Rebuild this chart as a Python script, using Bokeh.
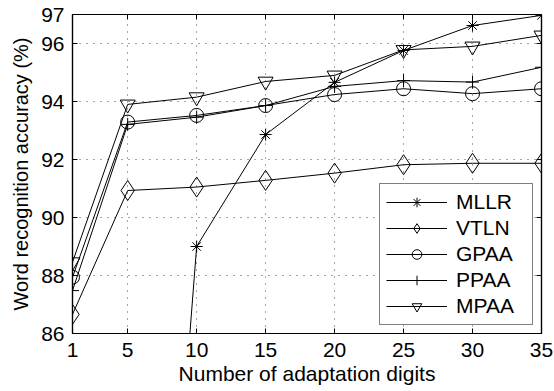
from bokeh.plotting import figure
from bokeh.models import Range1d, FixedTicker, LinearAxis, Legend, LegendItem, CustomJSTickFormatter
from bokeh.embed import file_html
from bokeh.resources import INLINE

x_digits = [1, 5, 10, 15, 20, 25, 30, 35]
x_ticks = [1, 5, 10, 15, 20, 25, 30, 35]
y_ticks = [86, 88, 90, 92, 94, 96, 97]

mllr = [40.0, 58.4, 89.0, 92.86, 94.66, 95.76, 96.62, 96.97]
vtln = [86.66, 90.93, 91.05, 91.28, 91.53, 91.82, 91.87, 91.87]
gpaa = [87.94, 93.29, 93.52, 93.86, 94.24, 94.44, 94.27, 94.44]
ppaa = [87.48, 93.21, 93.46, 93.86, 94.52, 94.72, 94.67, 95.18]
mpaa = [88.46, 93.90, 94.15, 94.69, 94.90, 95.78, 95.90, 96.28]

series = [
    ("MLLR", mllr, "asterisk", 12),
    ("VTLN", vtln, "diamond", 20),
    ("GPAA", gpaa, "circle", 14),
    ("PPAA", ppaa, "cross", 13),
    ("MPAA", mpaa, "inverted_triangle", 15),
]

FONT = "Liberation Sans"

p = figure(width=554, height=391, output_backend="svg", toolbar_location=None,
           x_range=Range1d(1, 35), y_range=Range1d(86, 97),
           min_border_left=72, min_border_right=13, min_border_top=14, min_border_bottom=58,
           frame_width=469, frame_height=319)
p.background_fill_color = "white"
p.border_fill_color = "white"
p.outline_line_color = "black"
p.outline_line_width = 1.2

for ax in (p.xaxis[0], p.yaxis[0]):
    ax.major_label_text_font = FONT
    ax.major_label_text_font_size = "21px"
    ax.major_label_text_color = "black"
    ax.axis_label_text_font = FONT
    ax.axis_label_text_font_size = "21px"
    ax.axis_label_text_font_style = "normal"
    ax.axis_label_text_color = "black"
    ax.major_tick_in = 5
    ax.major_tick_out = 0
    ax.minor_tick_in = 0
    ax.minor_tick_out = 0
    ax.axis_line_color = "black"
    ax.axis_line_width = 1.2
    ax.major_tick_line_color = "black"

p.yaxis[0].axis_label_text_font_size = "20px"
p.xaxis[0].ticker = FixedTicker(ticks=x_ticks)
p.yaxis[0].ticker = FixedTicker(ticks=y_ticks)
p.xaxis[0].axis_label = "Number of adaptation digits"
p.yaxis[0].axis_label = "Word recognition accuracy (%)"
p.xaxis[0].major_label_standoff = 9
p.yaxis[0].major_label_standoff = 8
p.xaxis[0].axis_label_standoff = 2
p.yaxis[0].axis_label_standoff = 6

for loc, ticks in (("right", y_ticks), ("above", x_ticks)):
    ax = LinearAxis(ticker=FixedTicker(ticks=ticks),
                    formatter=CustomJSTickFormatter(code="return '';"))
    ax.major_label_standoff = 0
    ax.major_tick_in = 5
    ax.major_tick_out = 0
    ax.minor_tick_in = 0
    ax.minor_tick_out = 0
    ax.axis_line_color = "black"
    ax.axis_line_width = 1.2
    p.add_layout(ax, loc)

p.xgrid.ticker = FixedTicker(ticks=x_ticks)
p.ygrid.ticker = FixedTicker(ticks=y_ticks)
for g in (p.xgrid[0], p.ygrid[0]):
    g.grid_line_color = "black"
    g.grid_line_alpha = 0.7
    g.grid_line_dash = "1 6"
    g.grid_line_width = 1

items = []
for name, vals, marker, size in series:
    ln = p.line(x_digits, vals, line_color="black", line_width=1)
    sc = p.scatter(x_digits, vals, marker=marker, size=size, line_color="black",
                   fill_color=None, line_width=1)
    items.append(LegendItem(label=name, renderers=[ln, sc]))

legend = Legend(items=items, location=(307, 8))
legend.label_text_font = FONT
legend.label_text_font_size = "21px"
legend.label_text_color = "black"
legend.glyph_width = 61
legend.glyph_height = 24
legend.label_height = 24
legend.label_width = 70
legend.spacing = 2
legend.padding = 6
legend.margin = 0
legend.label_standoff = 9
legend.border_line_color = "black"
legend.border_line_width = 1.2
legend.background_fill_color = "white"
legend.background_fill_alpha = 1
p.add_layout(legend, "center")

open("out.html", "w").write(file_html(p, INLINE))
